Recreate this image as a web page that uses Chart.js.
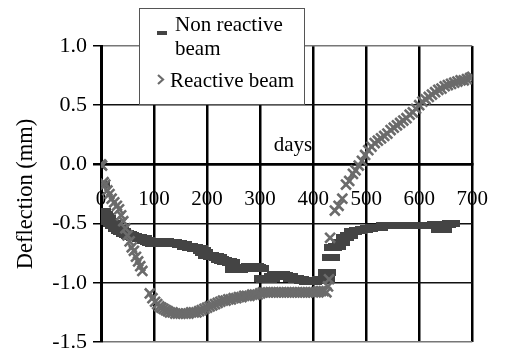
<!DOCTYPE html>
<html>
<head>
<meta charset="utf-8">
<script src="https://cdn.jsdelivr.net/npm/chart.js@4/dist/chart.umd.min.js"></script>
<style>
  html, body { margin: 0; padding: 0; background: #fff; }
  #wrap { position: relative; width: 510px; height: 354px; }
</style>
</head>
<body>
<div id="wrap"><canvas id="c" width="510" height="354"></canvas></div>
<script>
// x ticks (days) and y ticks (mm)
const dayTicks = [0, 100, 200, 300, 400, 500, 600, 700];
const mmTicks = [-1.5, -1.0, -0.5, 0.0, 0.5, 1.0];

// Non reactive beam
const nonDays = [0, 2, 5, 8, 12, 16, 20, 25, 30, 35, 40, 45, 50, 55, 60, 65, 70, 75, 80, 85, 90, 95,
  100, 105, 110, 115, 120, 125, 130, 135, 140, 145, 150, 155, 160, 165, 170, 175, 180, 185, 190, 195,
  200, 205, 210, 215, 220, 225, 230, 235, 240, 245, 250, 255, 260, 265, 270, 275, 280, 285, 290, 295,
  300, 305, 310, 315, 320, 325, 330, 335, 340, 345, 350, 355, 360, 365, 370, 375, 380, 385, 390, 395,
  400, 405, 410, 415, 420, 425, 427, 433, 438, 445, 452, 460, 468, 475, 485, 495,
  505, 515, 525, 535, 545, 555, 565, 575, 585, 595, 605, 615, 625, 632, 640, 645, 652, 660];
const nonVals = [-0.17, -0.40, -0.42, -0.44, -0.46, -0.48, -0.50, -0.52, -0.54, -0.56, -0.57, -0.58, -0.59, -0.60, -0.61, -0.62, -0.62, -0.63, -0.63, -0.64, -0.65, -0.66,
  -0.67, -0.67, -0.66, -0.65, -0.65, -0.66, -0.66, -0.66, -0.67, -0.67, -0.68, -0.68, -0.69, -0.69, -0.70, -0.70, -0.71, -0.71, -0.73, -0.74,
  -0.77, -0.77, -0.78, -0.78, -0.79, -0.80, -0.81, -0.82, -0.82, -0.83, -0.89, -0.89, -0.89, -0.88, -0.87, -0.87, -0.86, -0.86, -0.86, -0.87,
  -0.88, -0.96, -0.97, -0.97, -0.96, -0.95, -0.93, -0.93, -0.93, -0.94, -0.95, -0.95, -0.96, -0.96, -0.97, -0.97, -0.98, -0.98, -0.99, -0.99,
  -0.99, -0.98, -0.98, -0.97, -0.98, -0.97, -0.91, -0.79, -0.70, -0.69, -0.66, -0.62, -0.60, -0.57, -0.56, -0.55,
  -0.54, -0.53, -0.53, -0.52, -0.52, -0.52, -0.52, -0.52, -0.52, -0.52, -0.52, -0.52, -0.52, -0.51, -0.55, -0.55, -0.51, -0.50];

// Reactive beam
const reDays = [0, 2, 5, 8, 12, 16, 20, 25, 30, 34, 38, 42, 46, 50, 54, 58, 62, 66, 70, 74, 78,
  92, 97, 102, 106, 110, 114, 118, 122, 126, 130, 135, 140, 145, 150, 155, 160, 165, 170, 175, 180, 185, 190, 195,
  200, 205, 210, 215, 220, 225, 230, 235, 240, 245, 250, 255, 260, 265, 270, 275, 280, 285, 290, 295,
  300, 305, 310, 315, 320, 325, 330, 335, 340, 345, 350, 355, 360, 365, 370, 375, 380, 385, 390, 395,
  400, 405, 410, 415, 420, 425, 428, 430, 432, 441, 448, 455, 462, 468, 475, 480, 486, 492, 498,
  504, 510, 516, 522, 528, 534, 540, 546, 552, 558, 564, 570, 576, 582, 588, 594,
  600, 606, 612, 618, 624, 630, 636, 642, 648, 654, 660, 666, 672, 678, 684, 690, 696, 700];
const reVals = [0.00, -0.01, -0.15, -0.17, -0.22, -0.25, -0.29, -0.32, -0.35, -0.38, -0.43, -0.48, -0.54, -0.60, -0.65, -0.70, -0.73, -0.78, -0.82, -0.86, -0.90,
  -1.09, -1.13, -1.16, -1.18, -1.20, -1.21, -1.22, -1.23, -1.24, -1.25, -1.25, -1.26, -1.26, -1.26, -1.26, -1.26, -1.26, -1.25, -1.25, -1.25, -1.24, -1.23, -1.22,
  -1.21, -1.20, -1.19, -1.18, -1.17, -1.16, -1.15, -1.15, -1.14, -1.14, -1.13, -1.13, -1.12, -1.12, -1.11, -1.11, -1.11, -1.10, -1.10, -1.10,
  -1.09, -1.08, -1.08, -1.08, -1.08, -1.08, -1.08, -1.08, -1.08, -1.08, -1.08, -1.08, -1.08, -1.08, -1.08, -1.08, -1.08, -1.08, -1.08, -1.08,
  -1.08, -1.08, -1.07, -1.07, -1.07, -1.08, -1.03, -0.97, -0.62, -0.39, -0.35, -0.29, -0.17, -0.14, -0.08, -0.05, -0.01, 0.03, 0.08,
  0.12, 0.15, 0.18, 0.20, 0.22, 0.24, 0.26, 0.29, 0.31, 0.33, 0.35, 0.37, 0.39, 0.42, 0.44, 0.47,
  0.50, 0.53, 0.55, 0.57, 0.59, 0.61, 0.63, 0.64, 0.66, 0.67, 0.68, 0.69, 0.70, 0.71, 0.71, 0.72, 0.73, 0.74];

const nonColor = '#444';
const reColor = '#6b6b6b';
const serif = '"Liberation Serif", "Times New Roman", serif';

// wide flat dash used as the non reactive marker
const dash = document.createElement('canvas');
dash.width = 18; dash.height = 7;
const dctx = dash.getContext('2d');
dctx.fillStyle = nonColor;
dctx.fillRect(0, 0, 18, 7);

const toPts = (xs, ys) => xs.map((d, i) => ({ x: d, y: ys[i] }));

// legend box and "days" label
const extras = {
    id: 'extras',
    afterDraw(chart) {
        const ctx = chart.ctx;
        const ys = chart.scales.y;
        const xs = chart.scales.x;
        ctx.save();
        ctx.font = '21px ' + serif;
        ctx.fillStyle = '#000';
        ctx.textAlign = 'center';
        ctx.textBaseline = 'alphabetic';
        ctx.fillText('days', xs.getPixelForValue(362), ys.getPixelForValue(0) - 13);

        // legend
        ctx.fillStyle = '#fff';
        ctx.fillRect(139, 8, 165, 96);
        ctx.strokeStyle = '#555';
        ctx.lineWidth = 1;
        ctx.strokeRect(139.5, 8.5, 165, 96);

        ctx.fillStyle = nonColor;
        ctx.fillRect(157, 31, 10, 4);
        ctx.strokeStyle = reColor;
        ctx.lineWidth = 2.2;
        ctx.beginPath();
        ctx.moveTo(158, 75); ctx.lineTo(163, 79.5); ctx.lineTo(158, 84);
        ctx.stroke();

        ctx.fillStyle = '#000';
        ctx.textAlign = 'left';
        ctx.fillText('Non reactive', 175, 31);
        ctx.fillText('beam', 175, 55);
        ctx.fillText('Reactive beam', 170, 87);
        ctx.restore();
    }
};

new Chart(document.getElementById('c'), {
    type: 'scatter',
    data: {
        datasets: [
            {
                label: 'Non reactive beam',
                data: toPts(nonDays, nonVals),
                pointStyle: dash,
                order: 1
            },
            {
                label: 'Reactive beam',
                data: toPts(reDays, reVals),
                pointStyle: 'crossRot',
                pointRadius: 7,
                pointBorderWidth: 2.6,
                borderColor: reColor,
                backgroundColor: reColor,
                order: 0
            }
        ]
    },
    options: {
        responsive: false,
        animation: false,
        layout: { padding: { top: 46, right: 17, bottom: 12, left: 0 } },
        plugins: { legend: { display: false }, tooltip: { enabled: false } },
        scales: {
            x: {
                type: 'linear',
                position: { y: 0 },
                min: 0, max: 700,
                afterBuildTicks: s => { s.ticks = dayTicks.map(v => ({ value: v })); },
                ticks: { color: '#000', font: { family: serif, size: 21 }, padding: 22, maxRotation: 0 },
                grid: { color: '#000', lineWidth: 2.5, drawTicks: false },
                border: { color: '#000', width: 2.5 }
            },
            y: {
                min: -1.5, max: 1.0,
                afterBuildTicks: s => { s.ticks = mmTicks.map(v => ({ value: v })); },
                afterFit: s => { s.width = 101; s.paddingTop = 0; s.paddingBottom = 0; },
                ticks: { color: '#000', font: { family: serif, size: 22 }, padding: 6,
                    callback: v => v.toFixed(1) },
                grid: {
                    color: c => (c.tick && (c.tick.value === 1 || c.tick.value === -1.5)) ? '#777' : '#111',
                    lineWidth: c => (c.tick && c.tick.value === 0) ? 2.5 : 1.5,
                    tickLength: 8, tickColor: '#000'
                },
                border: { color: '#000', width: 3 },
                title: { display: true, text: 'Deflection (mm)', color: '#000',
                    font: { family: serif, size: 22.5 }, padding: { top: 13, bottom: 0 } }
            }
        }
    },
    plugins: [extras]
});
</script>
</body>
</html>
